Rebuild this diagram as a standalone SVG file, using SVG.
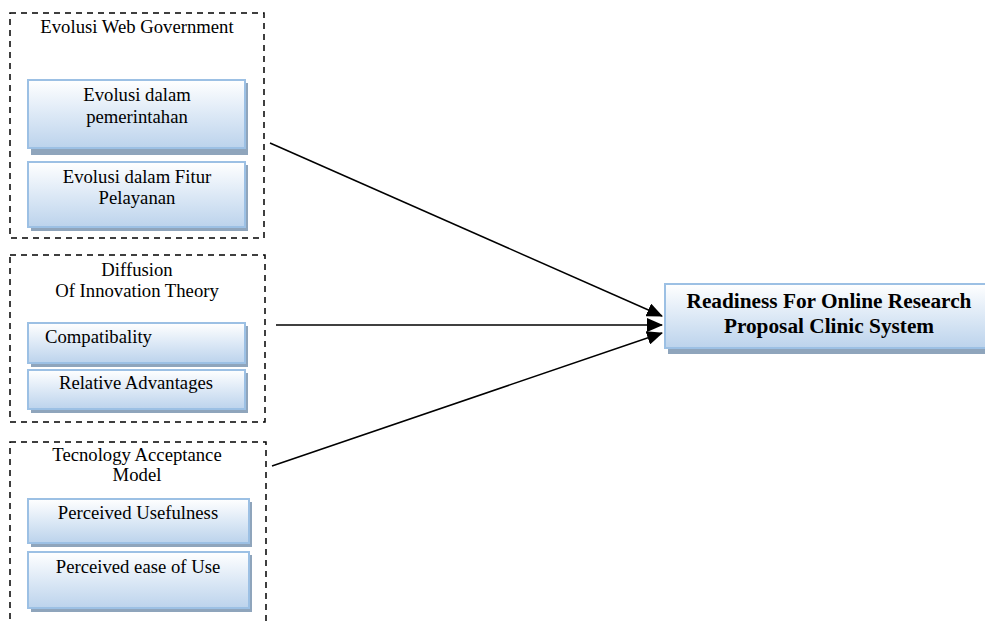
<svg xmlns="http://www.w3.org/2000/svg" width="985" height="624" viewBox="0 0 985 624">
<style>
.grp{fill:none;stroke:#000;stroke-width:1.5;stroke-dasharray:6,5}
.box{fill:url(#g);stroke:#9cc0e4;stroke-width:2}
.sh{fill:#8fa5bc}
.t{font-family:"Liberation Serif",serif;font-size:18.7px;fill:#000;text-anchor:middle}
.tb{font-family:"Liberation Serif",serif;font-size:21.3px;font-weight:bold;fill:#000;text-anchor:middle}
.c{stroke:#000;stroke-width:1.5;fill:none;marker-end:url(#ah)}
</style>
<defs>
<linearGradient id="g" x1="0" y1="0" x2="0" y2="1">
<stop offset="0" stop-color="#ffffff"/>
<stop offset="0.5" stop-color="#dde9f6"/>
<stop offset="1" stop-color="#bcd3ec"/>
</linearGradient>
<marker id="ah" markerWidth="16" markerHeight="14" refX="15" refY="7" orient="auto" markerUnits="userSpaceOnUse">
<path d="M0,0 L16,7 L0,14 Z" fill="#000"/>
</marker>
</defs>
<g id="group-evolusi">
<rect class="grp" x="10" y="13" width="254" height="225"/>
<text class="t" x="137" y="33">Evolusi Web Government</text>
</g>
<g id="node-pemerintahan">
<rect class="sh" x="31" y="83" width="217" height="72"/>
<rect class="box" x="28" y="80" width="217" height="68"/>
<text class="t" x="137" y="101">Evolusi dalam</text>
<text class="t" x="137" y="123">pemerintahan</text>
</g>
<g id="node-fitur">
<rect class="sh" x="31" y="165" width="217" height="66"/>
<rect class="box" x="28" y="162" width="217" height="65"/>
<text class="t" x="137" y="183">Evolusi dalam Fitur</text>
<text class="t" x="137" y="204">Pelayanan</text>
</g>
<g id="group-diffusion">
<rect class="grp" x="10" y="255" width="255" height="167"/>
<text class="t" x="137" y="276">Diffusion</text>
<text class="t" x="137" y="297">Of Innovation Theory</text>
</g>
<g id="node-compat">
<rect class="sh" x="31" y="326" width="217" height="41"/>
<rect class="box" x="28" y="323" width="217" height="40"/>
<text class="t" x="45" y="343" style="text-anchor:start">Compatibality</text>
</g>
<g id="node-relative">
<rect class="sh" x="31" y="373" width="217" height="40"/>
<rect class="box" x="28" y="370" width="217" height="39"/>
<text class="t" x="136" y="389">Relative Advantages</text>
</g>
<g id="group-tam">
<rect class="grp" x="10" y="442" width="256" height="190"/>
<text class="t" x="137" y="461">Tecnology Acceptance</text>
<text class="t" x="137" y="481">Model</text>
</g>
<g id="node-useful">
<rect class="sh" x="31" y="502" width="221" height="45"/>
<rect class="box" x="28" y="499" width="221" height="44"/>
<text class="t" x="138" y="519">Perceived Usefulness</text>
</g>
<g id="node-ease">
<rect class="sh" x="31" y="555" width="221" height="57"/>
<rect class="box" x="28" y="552" width="221" height="56"/>
<text class="t" x="138" y="573">Perceived ease of Use</text>
</g>
<g id="node-readiness">
<rect class="sh" x="668" y="288" width="320" height="66"/>
<rect class="box" x="665" y="284" width="322" height="64"/>
<text class="tb" x="829" y="308">Readiness For Online Research</text>
<text class="tb" x="829" y="333">Proposal Clinic System</text>
</g>
<g id="connectors">
<line class="c" x1="270" y1="143" x2="662" y2="316"/>
<line class="c" x1="276" y1="325" x2="662" y2="325"/>
<line class="c" x1="272" y1="466" x2="662" y2="333"/>
</g>
</svg>
